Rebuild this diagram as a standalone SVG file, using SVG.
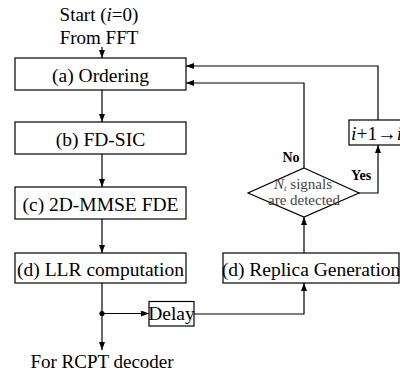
<svg xmlns="http://www.w3.org/2000/svg" width="400" height="376" viewBox="0 0 400 376">
<style>
  .box{fill:#fff;stroke:#000;stroke-width:1.2}
  .lbl{font-family:"Liberation Serif","Times New Roman",serif;font-size:19.5px;fill:#000;text-anchor:middle}
  .big{font-family:"Liberation Serif","Times New Roman",serif;font-size:19px;fill:#000;text-anchor:middle}
  .bold{font-family:"Liberation Serif","Times New Roman",serif;font-size:14px;font-weight:bold;fill:#000;text-anchor:middle}
  .cond{font-family:"Liberation Serif","Times New Roman",serif;font-size:15px;fill:#444;text-anchor:middle}
  .conn{fill:none;stroke:#000;stroke-width:1.2}
</style>
<defs>
  <marker id="ah" markerWidth="8" markerHeight="6" refX="8" refY="3" orient="auto" markerUnits="userSpaceOnUse">
    <path d="M0,0 L8,3 L0,6 Z" fill="#000"/>
  </marker>
</defs>
<rect width="400" height="376" fill="#fff"/>

<g id="start">
  <text class="big" x="99" y="21">Start (<tspan font-style="italic">i</tspan>=0)</text>
  <text class="big" x="99" y="44">From FFT</text>
</g>

<g id="connectors">
  <path class="conn" d="M102,47 V58" marker-end="url(#ah)"/>
  <path class="conn" d="M102,90 V122" marker-end="url(#ah)"/>
  <path class="conn" d="M102,154 V187" marker-end="url(#ah)"/>
  <path class="conn" d="M102,219 V253" marker-end="url(#ah)"/>
  <path class="conn" d="M102,283 V350" marker-end="url(#ah)"/>
  <path class="conn" d="M102,313.5 H149" marker-end="url(#ah)"/>
  <path class="conn" d="M194,314 H304 V283" marker-end="url(#ah)"/>
  <path class="conn" d="M304,253 V217" marker-end="url(#ah)"/>
  <path class="conn" d="M304,168 V83 H186" marker-end="url(#ah)"/>
  <path class="conn" d="M359,193 H378 V145" marker-end="url(#ah)"/>
  <path class="conn" d="M378,120 V66 H186" marker-end="url(#ah)"/>
  <circle cx="102" cy="313.5" r="2.6" fill="#000"/>
</g>

<g id="ordering">
  <rect class="box" x="15" y="58" width="171" height="32"/>
  <text class="lbl" x="100.5" y="82">(a) Ordering</text>
</g>
<g id="fdsic">
  <rect class="box" x="15" y="122" width="171" height="32"/>
  <text class="lbl" x="100.5" y="146">(b) FD-SIC</text>
</g>
<g id="mmse">
  <rect class="box" x="15" y="187" width="171" height="32"/>
  <text class="lbl" x="100.5" y="211">(c) 2D-MMSE FDE</text>
</g>
<g id="llr">
  <rect class="box" x="15" y="253" width="171" height="30"/>
  <text class="lbl" x="100.5" y="276" font-size="19">(d) LLR computation</text>
</g>
<g id="delay">
  <rect class="box" x="149" y="301.5" width="45" height="24.5"/>
  <text class="lbl" x="171.5" y="320" font-size="18">Delay</text>
</g>
<g id="replica">
  <rect class="box" x="223" y="253" width="176" height="30"/>
  <text class="lbl" x="311" y="276" font-size="19">(d) Replica Generation</text>
</g>
<g id="decision">
  <polygon points="304,168 359,193 304,217 248,193" fill="none" stroke="#000" stroke-width="1.2"/>
  <text class="cond" x="303" y="188.5"><tspan font-style="italic">N</tspan><tspan font-style="italic" font-size="9" dy="2">t</tspan><tspan dy="-2"> signals</tspan></text>
  <text class="cond" x="304" y="205">are detected</text>
  <text class="bold" x="291" y="162">No</text>
  <text class="bold" x="361" y="180">Yes</text>
</g>
<g id="increment">
  <rect class="box" x="349" y="120" width="60" height="25"/>
  <text class="lbl" x="351" y="140" style="text-anchor:start"><tspan font-style="italic">i</tspan>+1→<tspan font-style="italic">i</tspan></text>
</g>

<g id="output">
  <text class="big" x="102" y="368">For RCPT decoder</text>
</g>
</svg>
